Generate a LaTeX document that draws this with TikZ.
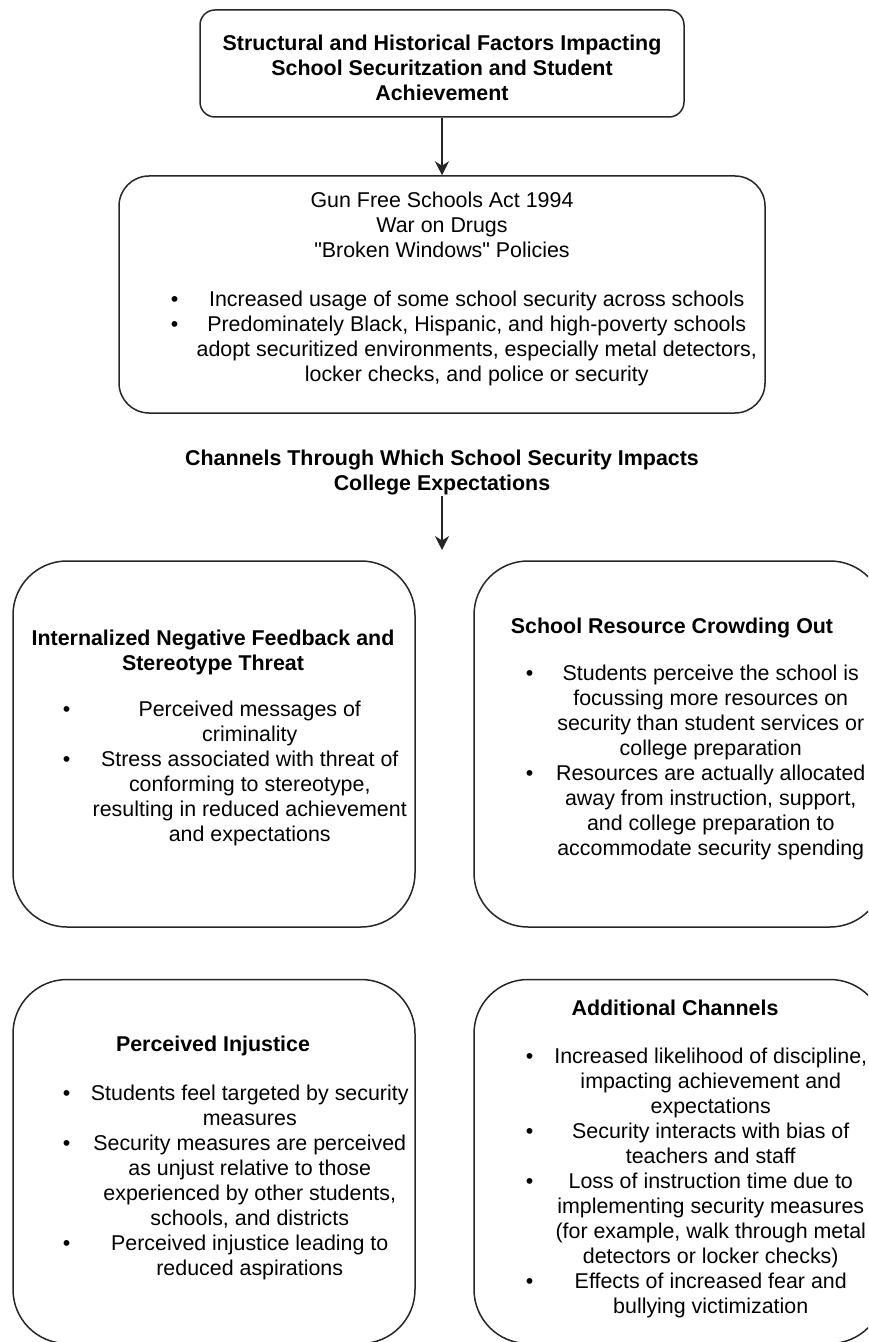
\documentclass[tikz,border=0pt]{standalone}
\usepackage{fontspec}
\setmainfont{Liberation Sans}
\usepackage{array}
\usepackage{tikz}
\usetikzlibrary{arrows.meta}

\newcolumntype{C}[1]{>{\centering\arraybackslash}p{#1}}
\newcommand{\bulletlist}[2]{\begin{tabular}{@{}p{8pt}@{}C{#1}@{}}#2\end{tabular}}

\begin{document}
\begin{tikzpicture}[
		x=0.5pt, y=-0.5pt,
		line width=0.75pt, draw=black!85,
		>={Stealth[length=7pt, width=7pt]},
		every node/.style={inner sep=0pt, font=\fontsize{10.7}{12.5}\selectfont},
		chanbox/.style={draw=black!85, rounded corners=27pt, minimum width=201pt, minimum height=183pt},
		headtext/.style={font=\fontsize{10.7}{12.5}\selectfont\bfseries, align=center, anchor=north},
		listtext/.style={anchor=north west}
	]
  \useasboundingbox (0, 0) rectangle (868, 1342);
  \clip (0, 0) rectangle (868, 1342);
  % factors at the top
  \node (factors) [draw=black!85, rounded corners=7.5pt, minimum width=242pt, minimum height=53.5pt] at (442, 63.5) {};
  \node (factors_label) [headtext] at (442, 34) {Structural and Historical Factors Impacting\\School Securitzation and Student\\Achievement};
  \node (policies) [draw=black!85, rounded corners=15pt, minimum width=323pt, minimum height=118.5pt] at (442, 294.5) {};
  \node (policies_label) [anchor=north, align=center] at (442, 191) {Gun Free Schools Act 1994\\War on Drugs\\\textquotedbl Broken Windows\textquotedbl{} Policies};
  \node (policies_list) [listtext] at (170, 288) {\bulletlist{290pt}{%
    \textbullet & Increased usage of some school security across schools \\
    \textbullet & Predominately Black, Hispanic, and high-poverty schools\par adopt securitized environments, especially metal detectors,\par locker checks, and police or security \\}};
  \draw [->] (factors) -- (policies);
  % channels
  \node (chan_head) [headtext] at (442, 449) {Channels Through Which School Security Impacts\\College Expectations};
  \coordinate (gap) at (442, 550);
  \draw [->] (chan_head) -- (gap);
  \node (stereo) [chanbox] at (214, 744) {};
  \node (stereo_label) [headtext] at (213, 629) {Internalized Negative Feedback and\\Stereotype Threat};
  \node (stereo_list) [listtext] at (62, 698) {\bulletlist{171pt}{%
    \textbullet & Perceived messages of\par criminality \\
    \textbullet & Stress associated with threat of\par conforming to stereotype,\par resulting in reduced achievement\par and expectations \\}};
  \node (crowd) [chanbox, minimum width=205pt] at (679, 744) {};
  \node (crowd_label) [headtext] at (672, 617) {School Resource Crowding Out};
  \node (crowd_list) [listtext] at (525, 662) {\bulletlist{169pt}{%
    \textbullet & Students perceive the school is\par focussing more resources on\par security than student services or\par college preparation \\
    \textbullet & Resources are actually allocated\par away from instruction, support,\par and college preparation to\par accommodate security spending \\}};
  \node (injust) [chanbox, minimum height=182pt] at (214, 1161.5) {};
  \node (injust_label) [headtext] at (213, 1035) {Perceived Injustice};
  \node (injust_list) [listtext] at (62, 1082) {\bulletlist{171pt}{%
    \textbullet & Students feel targeted by security\par measures \\
    \textbullet & Security measures are perceived\par as unjust relative to those\par experienced by other students,\par schools, and districts \\
    \textbullet & Perceived injustice leading to\par reduced aspirations \\}};
  \node (extra) [chanbox, minimum width=205pt, minimum height=182pt] at (679, 1161.5) {};
  \node (extra_label) [headtext] at (675, 999) {Additional Channels};
  \node (extra_list) [listtext] at (525, 1045) {\bulletlist{169pt}{%
    \textbullet & Increased likelihood of discipline,\par impacting achievement and\par expectations \\
    \textbullet & Security interacts with bias of\par teachers and staff \\
    \textbullet & Loss of instruction time due to\par implementing security measures\par (for example, walk through metal\par detectors or locker checks) \\
    \textbullet & Effects of increased fear and\par bullying victimization \\}};
\end{tikzpicture}
\end{document}
